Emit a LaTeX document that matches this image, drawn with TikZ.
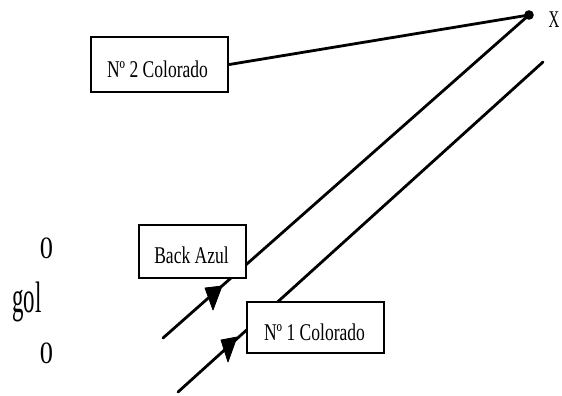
\documentclass[tikz,border=0pt]{standalone}
\usepackage{fontspec}
\setmainfont{Liberation Serif}
\usepackage{graphicx}
\tikzset{
  box/.style={draw, line width=2.5pt, fill=white, inner sep=0pt},
  ray/.style={line width=2.8pt, line cap=round},
  lbl/.style={inner sep=0pt, font=\fontsize{24}{26}\selectfont},
  head/.style={fill=black, draw=black, line width=0.8pt, line join=round}
}
\newcommand\sqz[2]{\scalebox{#1}[1]{#2}}
\begin{document}
\begin{tikzpicture}[x=1pt,y=-1pt]
\useasboundingbox (0,0) rectangle (562,396);
% end points
\coordinate (X) at (529,15);
\coordinate (u0) at (163,338);
\coordinate (l0) at (178,392);
\coordinate (l1) at (543,62);
% the two parallel rays
\draw[ray] (u0) -- (X);
\draw[ray] (l0) -- (l1);
% boxes
\node[box, minimum width=137pt, minimum height=55pt] (b2) at (159.5,64.5) {};
\node[box, minimum width=107pt, minimum height=53pt] (ba) at (192.5,251.5) {};
\node[box, minimum width=137pt, minimum height=51pt] (b1) at (315.5,327.5) {};
\node[lbl] (t2) at (157.5,69) {\sqz{0.73}{Nº 2 Colorado}};
\node[lbl] (ta) at (191.5,255) {\sqz{0.73}{Back Azul}};
\node[lbl] (t1) at (314.5,332) {\sqz{0.73}{Nº 1 Colorado}};
% line from box 2 to X
\draw[ray] (b2.east) -- (X);
\fill (X) circle (4.8pt);
\node[lbl, anchor=base] (xl) at (554,28) {\sqz{0.62}{X}};
% arrow heads
\filldraw[head] (205,288) -- (222,286) -- (213,310) -- cycle;
\filldraw[head] (221,340) -- (237,337) -- (228,362) -- cycle;
% left labels
\node[inner sep=0pt, anchor=base, font=\fontsize{31}{33}\selectfont] (z1) at (46.5,258) {\sqz{0.85}{0}};
\node[inner sep=0pt, anchor=base, font=\fontsize{44}{46}\selectfont] (gl) at (27,312) {\sqz{0.52}{gol}};
\node[inner sep=0pt, anchor=base, font=\fontsize{31}{33}\selectfont] (z2) at (46.5,363) {\sqz{0.85}{0}};
\end{tikzpicture}
\end{document}
